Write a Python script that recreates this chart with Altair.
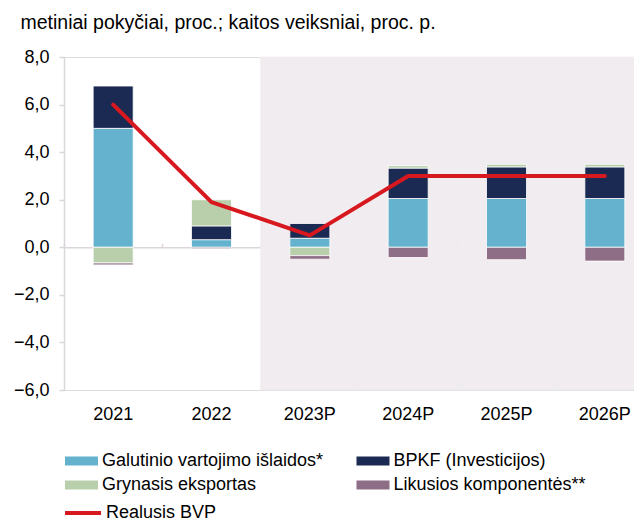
import altair as alt
import pandas as pd

cats = ["2021", "2022", "2023P", "2024P", "2025P", "2026P"]
series_names = ["Galutinio vartojimo išlaidos*", "BPKF (Investicijos)",
                "Grynasis eksportas", "Likusios komponentės**"]
series_colors = ["#64b2cd", "#1b2a52", "#b9cfab", "#8d6e86"]
galutinio = [5.0, 0.32, 0.38, 2.05, 2.05, 2.05]
bpkf = [1.78, 0.58, 0.62, 1.28, 1.33, 1.33]
grynasis = [-0.66, 1.10, -0.35, 0.10, 0.11, 0.11]
likusios = [-0.08, -0.06, -0.15, -0.43, -0.52, -0.58]
bvp = [6.0, 1.9, 0.5, 3.0, 3.0, 3.0]
forecast_cats = ["2023P", "2024P", "2025P", "2026P"]
y_ticks = [-6, -4, -2, 0, 2, 4, 6, 8]

rows = []
for k, (name, vals) in enumerate(zip(series_names, [galutinio, bpkf, grynasis, likusios])):
    for c, v in zip(cats, vals):
        rows.append({"cat": c, "series": name, "value": v, "k": k})
bars_df = pd.DataFrame(rows)
line_df = pd.DataFrame({"cat": cats, "value": bvp, "series": ["Realusis BVP"] * len(cats)})
shade_df = pd.DataFrame({"cat": forecast_cats})

W, H = 570, 333
GREY = "#dcd6dc"
FONT = "Liberation Sans"

xscale = alt.Scale(domain=cats, range=[0, 590], paddingInner=0, paddingOuter=0)
yscale = alt.Scale(domain=[-6, 8], nice=False, zero=False)

shade = alt.Chart(shade_df).mark_rect(color="#f0ecf0", stroke="#f0ecf0", strokeWidth=0.6).encode(
    x=alt.X("cat:N", scale=xscale, axis=None),
    y=alt.YDatum(datum=-6, scale=yscale, axis=None),
    y2=alt.Y2Datum(datum=8),
)

bars = alt.Chart(bars_df).mark_bar(size=40, stroke="white", strokeWidth=0.8).encode(
    x=alt.X("cat:N", scale=xscale, sort=cats,
            axis=alt.Axis(title=None, orient="bottom", domain=False, ticks=False, tickSize=0,
                          labelPadding=15, labelFontSize=18, labelColor="black", labelAngle=0,
                          labelFont=FONT)),
    y=alt.Y("value:Q", scale=yscale, stack="zero",
            axis=alt.Axis(values=y_ticks, grid=False, domainColor=GREY, domainWidth=1.5,
                          tickColor=GREY, tickSize=5, tickWidth=1.5, labelPadding=10,
                          labelFontSize=18, labelColor="black", labelFont=FONT,
                          labelExpr="replace(format(datum.value, '.1f'), '.', ',')",
                          title="metiniai pokyčiai, proc.; kaitos veiksniai, proc. p.",
                          titleAngle=0, titleAlign="left", titleBaseline="alphabetic",
                          titleX=-44, titleY=-29, titleFontSize=19.5, titleFontWeight="normal",
                          titleColor="black", titleFont=FONT)),
    color=alt.Color("series:N", scale=alt.Scale(domain=series_names, range=series_colors),
                    legend=alt.Legend(title=None, orient="none", legendX=7.5, legendY=394,
                                      direction="horizontal",
                                      columns=2, columnPadding=32.5, rowPadding=5,
                                      symbolType="M-1.65,-0.45H1.65V0.45H-1.65Z",
                                      symbolSize=400, symbolStrokeWidth=0, symbolOpacity=1,
                                      labelFontSize=18, labelOffset=10.5, labelLimit=0,
                                      labelColor="black", labelFont=FONT, padding=0)),
    order=alt.Order("k:Q"),
)

line = alt.Chart(line_df).mark_line(strokeWidth=4, strokeCap="round", strokeJoin="round").encode(
    x=alt.X("cat:N", scale=xscale,
            axis=alt.Axis(title=None, orient="top", offset=-(H * 8 / 14), labels=False,
                          domain=True, domainColor=GREY, domainWidth=1.5, ticks=True,
                          tickBand="extent", tickSize=4, tickColor=GREY, tickWidth=1.5,
                          zindex=0)),
    y=alt.Y("value:Q", scale=yscale, axis=None),
    stroke=alt.Stroke("series:N", scale=alt.Scale(domain=["Realusis BVP"], range=["#d7191f"]),
                      legend=alt.Legend(title=None, orient="none", legendX=7, legendY=444,
                                        symbolType="M-1.8,0H1.8", symbolSize=400,
                                        symbolStrokeWidth=4, symbolFillColor="transparent",
                                        labelFontSize=18, labelOffset=11, labelLimit=0,
                                        labelColor="black", labelFont=FONT, padding=0)),
)

chart = alt.layer(shade, bars, line).resolve_axis(x="independent", y="independent").properties(
    width=W, height=H,
    autosize=alt.AutoSizeParams(type="none"),
    padding={"left": 56, "top": 49, "right": 0, "bottom": 134},
).configure_view(stroke=None).configure(font=FONT)

chart.save("out.html", embed_options={"renderer": "svg", "actions": False})
